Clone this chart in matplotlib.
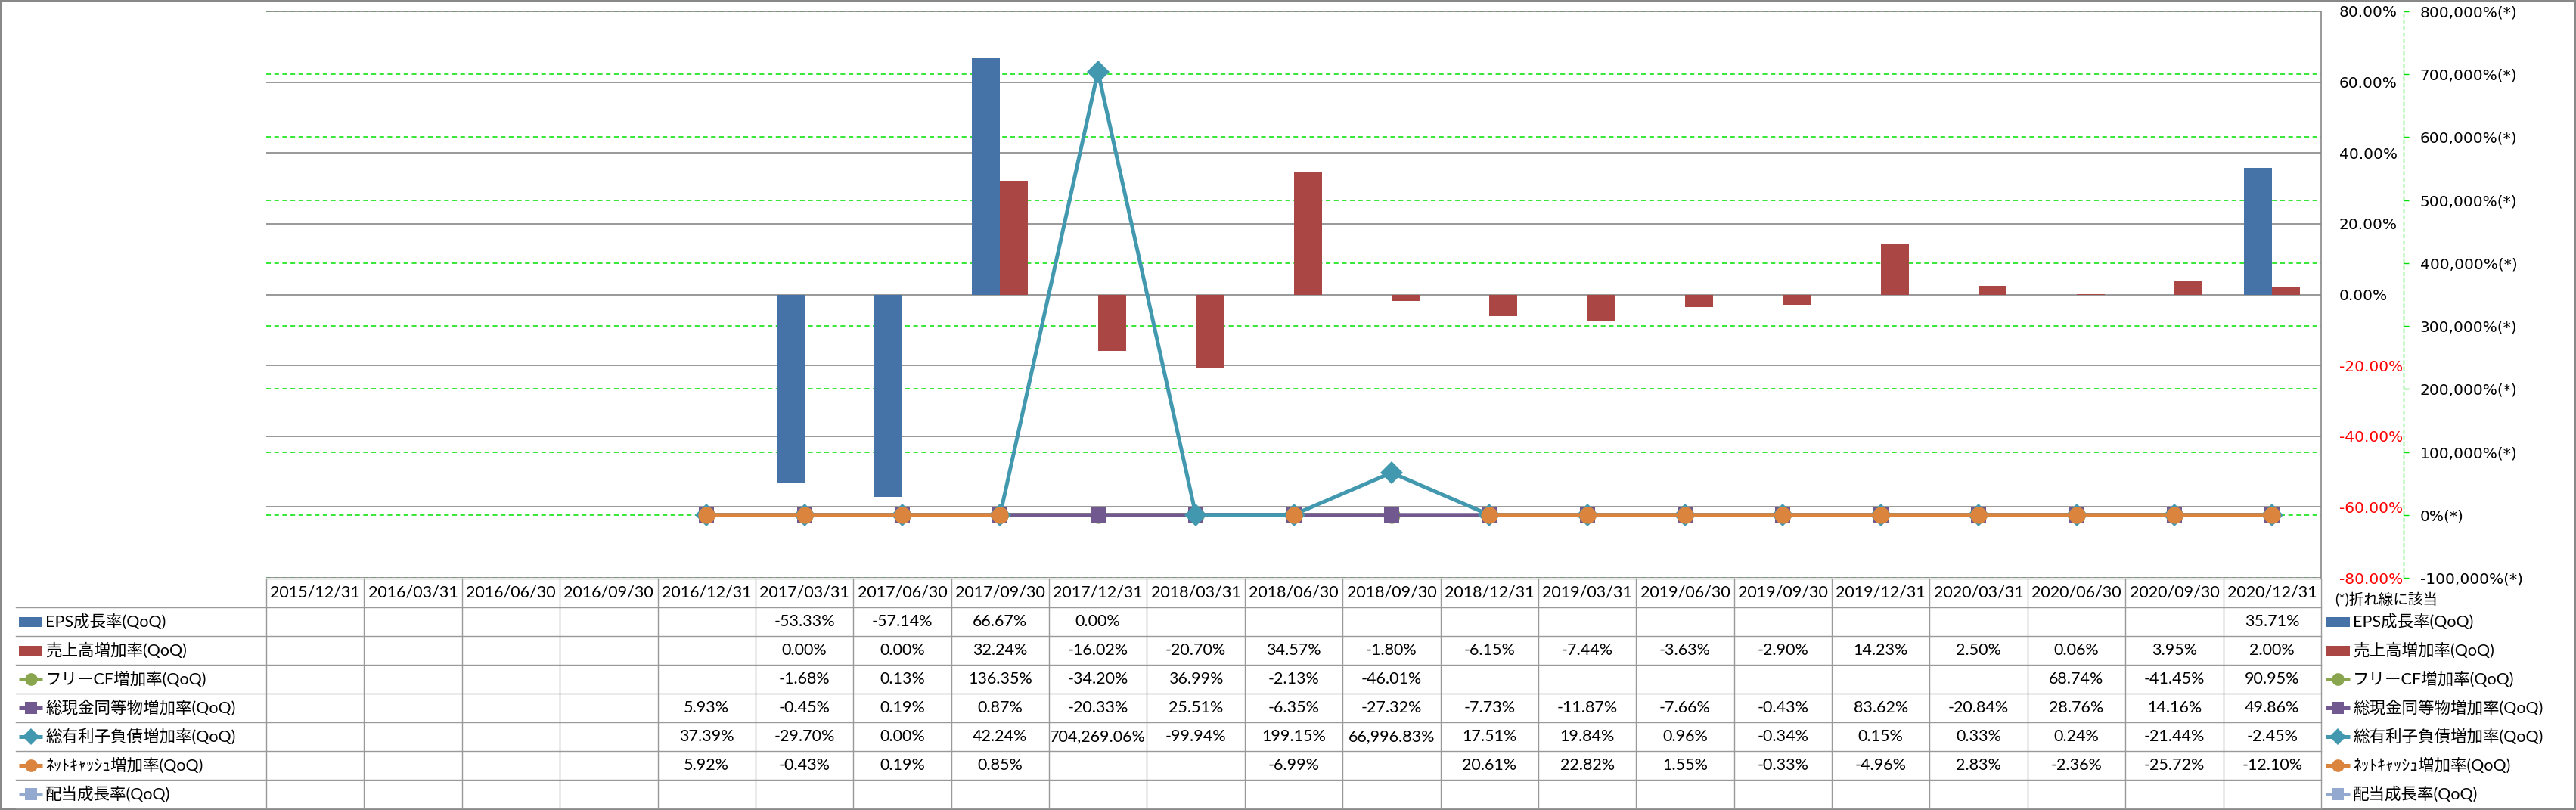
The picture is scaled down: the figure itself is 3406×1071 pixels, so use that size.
import numpy as np
import matplotlib
matplotlib.use('Agg')
import matplotlib.pyplot as plt
from matplotlib.patches import Rectangle

nan = np.nan

dates = ['2015/12/31', '2016/03/31', '2016/06/30', '2016/09/30', '2016/12/31',
         '2017/03/31', '2017/06/30', '2017/09/30', '2017/12/31', '2018/03/31',
         '2018/06/30', '2018/09/30', '2018/12/31', '2019/03/31', '2019/06/30',
         '2019/09/30', '2019/12/31', '2020/03/31', '2020/06/30', '2020/09/30',
         '2020/12/31']

series_names = ['EPS成長率(QoQ)', '売上高増加率(QoQ)', 'フリーCF増加率(QoQ)',
                '総現金同等物増加率(QoQ)', '総有利子負債増加率(QoQ)',
                'ﾈｯﾄｷｬｯｼｭ増加率(QoQ)', '配当成長率(QoQ)']

eps_growth = [nan, nan, nan, nan, nan, -53.33, -57.14, 66.67, 0.00, nan, nan,
              nan, nan, nan, nan, nan, nan, nan, nan, nan, 35.71]
sales_growth = [nan, nan, nan, nan, nan, 0.00, 0.00, 32.24, -16.02, -20.70, 34.57,
                -1.80, -6.15, -7.44, -3.63, -2.90, 14.23, 2.50, 0.06, 3.95, 2.00]
fcf_growth = [nan, nan, nan, nan, nan, -1.68, 0.13, 136.35, -34.20, 36.99, -2.13,
              -46.01, nan, nan, nan, nan, nan, nan, 68.74, -41.45, 90.95]
cash_growth = [nan, nan, nan, nan, 5.93, -0.45, 0.19, 0.87, -20.33, 25.51, -6.35,
               -27.32, -7.73, -11.87, -7.66, -0.43, 83.62, -20.84, 28.76, 14.16, 49.86]
debt_growth = [nan, nan, nan, nan, 37.39, -29.70, 0.00, 42.24, 704269.06, -99.94,
               199.15, 66996.83, 17.51, 19.84, 0.96, -0.34, 0.15, 0.33, 0.24,
               -21.44, -2.45]
netcash_growth = [nan, nan, nan, nan, 5.92, -0.43, 0.19, 0.85, nan, nan, -6.99,
                  nan, 20.61, 22.82, 1.55, -0.33, -4.96, 2.83, -2.36, -25.72, -12.10]
dividend_growth = [nan] * 21

left_ticks = [-80, -60, -40, -20, 0, 20, 40, 60, 80]
right_ticks = [-100000, 0, 100000, 200000, 300000, 400000, 500000, 600000,
               700000, 800000]
note_text = '(*)折れ線に該当'

colors = ['#4572A7', '#AA4643', '#89A54E', '#71588F', '#4198AF', '#DB843D', '#93A9CF']
markers = [None, None, 'o', 's', 'D', 'o', 's']
msizes = [0, 0, 16, 15, 15, 16, 15]

W, H = 3406, 1071
fig = plt.figure(figsize=(W / 100, H / 100), dpi=100)

TFONT = ['Lato', 'Noto Sans CJK JP']
AFONT = ['DejaVu Sans']
AXFS = 14.5

# overlay for table / legend / border
bg = fig.add_axes([0, 0, 1, 1])
bg.set_xlim(0, W)
bg.set_ylim(H, 0)
bg.axis('off')

L, R, T, B = 352, 3069, 15, 764
ax = fig.add_axes([L / W, 1 - B / H, (R - L) / W, (B - T) / H])
ax.patch.set_alpha(0)
ax2 = ax.twinx()

x = np.arange(len(dates))
bw = 0.286
ax.bar(x - bw / 2, eps_growth, width=bw, color=colors[0], zorder=3)
ax.bar(x + bw / 2, sales_growth, width=bw, color=colors[1], zorder=3)

ax.set_xlim(-0.5, len(dates) - 0.5)
ax.set_ylim(-80, 80)
ax2.set_ylim(-100000, 800000)

# primary gridlines
for v in left_ticks:
    ax.axhline(v, color='#888888', lw=1.2, zorder=2.5)
# secondary gridlines (drawn behind bars, converted to primary scale)
for v in right_ticks:
    yv = -80 + (v + 100000) / 900000 * 160
    ax.axhline(yv, color='#00e000', lw=1.1, ls=(0, (4, 3)), zorder=2)

ax.set_xticks([])
ax.yaxis.tick_right()
ax.set_yticks(left_ticks)
ax.set_yticklabels([f'{v:.2f}%' for v in left_ticks])
ax.tick_params(axis='y', length=0, pad=17, labelsize=AXFS)
for tick, v in zip(ax.yaxis.get_major_ticks(), left_ticks):
    for lab in (tick.label1, tick.label2):
        lab.set_color('red' if v < 0 else 'black')
        lab.set_horizontalalignment('left')
        lab.set_fontfamily(AFONT)
        lab.set_fontsize(AXFS)
for s in ['left', 'top', 'bottom']:
    ax.spines[s].set_visible(False)
ax.spines['right'].set_color('#888888')
ax.spines['right'].set_linewidth(1.2)

# lines on secondary axis
line_data = [fcf_growth, cash_growth, debt_growth, netcash_growth, dividend_growth]
for i, d in enumerate(line_data):
    k = i + 2
    ax2.plot(x, d, color=colors[k], marker=markers[k], ms=msizes[k], lw=3.6,
             markeredgewidth=0, zorder=4 + i)

ax2.set_xticks([])
ax2.set_yticks(right_ticks)
ax2.set_yticklabels([f'{v:,}%(*)' for v in right_ticks])
ax2.tick_params(axis='y', length=5, width=1, color='#00e000', pad=10.5,
                direction='out', labelsize=AXFS)
for tick, v in zip(ax2.yaxis.get_major_ticks(), right_ticks):
    for lab in (tick.label1, tick.label2):
        lab.set_color('red' if v < 0 else 'black')
        lab.set_fontfamily(AFONT)
        lab.set_fontsize(AXFS)
for s in ['left', 'top', 'bottom']:
    ax2.spines[s].set_visible(False)
ax2.spines['right'].set_position(('outward', 78.5))
ax2.spines['right'].set_color('#00e000')
ax2.spines['right'].set_linestyle((0, (3, 3)))
ax2.spines['right'].set_linewidth(1.0)

# ---------- data table ----------
gc = '#999999'
colw = (R - L) / len(dates)
hdr_top, hdr_bot, rowh = 765, 803, 38
nrows = len(series_names)
tab_bot = hdr_bot + rowh * nrows
bg.plot([L, R], [hdr_top, hdr_top], color=gc, lw=1)
for r in range(nrows + 1):
    yy = hdr_bot + rowh * r
    bg.plot([21, R], [yy, yy], color=gc, lw=1)
for k in range(len(dates) + 1):
    xx = L + colw * k
    bg.plot([xx, xx], [hdr_top, tab_bot], color=gc, lw=1)
for k, d in enumerate(dates):
    bg.text(L + colw * (k + 0.5), (hdr_top + hdr_bot) / 2, d, ha='center',
            va='center', family=TFONT, fontsize=15.5)

all_series = [eps_growth, sales_growth, fcf_growth, cash_growth, debt_growth,
              netcash_growth, dividend_growth]


def draw_key(xl, xr, yc, k):
    if markers[k] is None:
        bg.add_patch(Rectangle((xl, yc - 6.5), xr - xl, 13, color=colors[k], lw=0))
    else:
        bg.plot([xl, xr], [yc, yc], color=colors[k], lw=3.6, solid_capstyle='butt')
        bg.plot([(xl + xr) / 2], [yc], marker=markers[k], color=colors[k],
                ms=msizes[k] * 0.75, markeredgewidth=0)


for r, (name, vals) in enumerate(zip(series_names, all_series)):
    yc = hdr_bot + rowh * r + rowh / 2
    draw_key(25, 56, yc, r)
    bg.text(60, yc, name, ha='left', va='center', family=TFONT, fontsize=15.5)
    for k, v in enumerate(vals):
        if not np.isnan(v):
            bg.text(L + colw * (k + 0.5), yc, f'{v:,.2f}%', ha='center',
                    va='center', family=TFONT, fontsize=15.5)
    # right legend
    draw_key(3075, 3107, yc, r)
    bg.text(3111, yc, name, ha='left', va='center', family=TFONT, fontsize=15.5)

bg.text(3087, 793, note_text, ha='left', va='center', family=TFONT, fontsize=14)

# figure border
bg.add_patch(Rectangle((1, 1), W - 2, H - 2, fill=False, ec='#888888', lw=1.5))

fig.savefig('out.png', dpi=100)
